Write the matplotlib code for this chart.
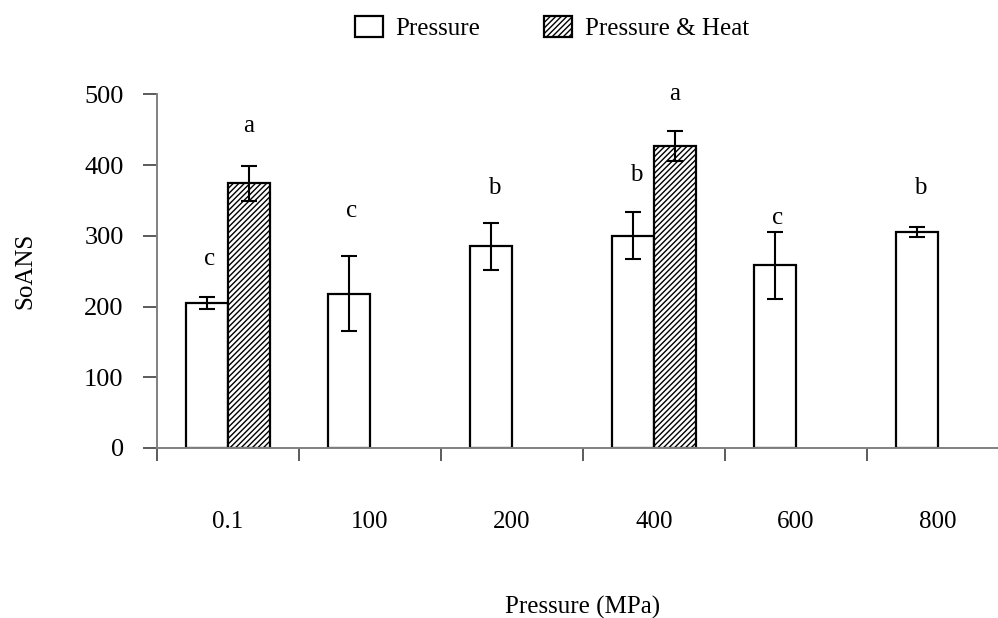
import matplotlib
matplotlib.use("Agg")
import matplotlib.pyplot as plt
import numpy as np

plt.rcParams['font.family'] = ['Liberation Serif', 'DejaVu Serif']
plt.rcParams['hatch.linewidth'] = 1.0
plt.rcParams['hatch.color'] = '#505050'

categories = ['0.1', '100', '200', '400', '600', '800']
pressure = [205, 218, 285, 300, 258, 305]
pressure_err = [8, 53, 33, 33, 47, 7]
heat = [374, np.nan, np.nan, 427, np.nan, np.nan]
heat_err = [25, np.nan, np.nan, 21, np.nan, np.nan]
pressure_letters = ['c', 'c', 'b', 'b', 'c', 'b']
pressure_letter_y = [259, 327, 359, 378, 317, 359]
heat_letters = ['a', '', '', 'a', '', '']
heat_letter_y = [447, np.nan, np.nan, 492, np.nan, np.nan]
yticks = [0, 100, 200, 300, 400, 500]

W, H = 998, 618
FS = 18
fig = plt.figure(figsize=(W / 100, H / 100), dpi=100)
ax = fig.add_axes([157 / W, 1 - 448 / H, (1009 - 157) / W, (448 - 94.3) / H])

x = np.arange(len(categories))
bw = 0.293
ax.bar(x - bw / 2, pressure, bw, color='white', edgecolor='black', linewidth=1.6,
       label='Pressure', zorder=2)
ax.errorbar(x - bw / 2, pressure, yerr=pressure_err, fmt='none', ecolor='black',
            elinewidth=1.5, capsize=6, capthick=1.5, zorder=3)
heat_a = np.array(heat, dtype=float)
heat_e = np.array(heat_err, dtype=float)
hmask = ~np.isnan(heat_a)
ax.bar(x[hmask] + bw / 2, heat_a[hmask], bw, color='white', edgecolor='black',
       linewidth=1.6, hatch='//////', label='Pressure & Heat', zorder=2)
ax.errorbar(x[hmask] + bw / 2, heat_a[hmask], yerr=heat_e[hmask],
            fmt='none', ecolor='black', elinewidth=1.5, capsize=6, capthick=1.5, zorder=3)

for i in range(len(categories)):
    ax.text(x[i] - bw / 2 + 0.02, pressure_letter_y[i], pressure_letters[i], ha='center',
            va='baseline', fontsize=FS)
    if heat_letters[i]:
        ax.text(x[i] + bw / 2, heat_letter_y[i], heat_letters[i], ha='center',
                va='baseline', fontsize=FS)

ax.set_xlim(-0.5, len(categories) - 0.5)
ax.set_ylim(0, 500)
ax.set_yticks(yticks)
ax.tick_params(axis='y', direction='out', length=10, width=1.2, color='#404040',
               labelsize=19, pad=14)
ax.set_xticks(np.arange(len(categories) + 1) - 0.5)
ax.set_xticklabels([])
ax.tick_params(axis='x', which='major', direction='out', length=9.5, width=1.2,
               color='#404040')
ax.set_xticks(x, minor=True)
ax.set_xticklabels(categories, minor=True)
ax.tick_params(axis='x', which='minor', length=0, labelsize=FS, pad=45)

for s in ['top', 'right']:
    ax.spines[s].set_visible(False)
for s in ['left', 'bottom']:
    ax.spines[s].set_color('#808080')
    ax.spines[s].set_linewidth(1.4)

ax.set_ylabel('SoANS', fontsize=FS)
ax.yaxis.set_label_coords(-(157 - 36) / (1009 - 157), 0.5)
fig.text(583 / W, 1 - 614 / H, 'Pressure (MPa)', ha='center', va='baseline', fontsize=FS)

fig.legend(loc='center', bbox_to_anchor=(552 / W, 1 - 28 / H), ncol=2, frameon=False,
           fontsize=FS, handlelength=1.12, handleheight=0.92, columnspacing=2.56,
           handletextpad=0.5)

fig.savefig('out.png', dpi=100)
